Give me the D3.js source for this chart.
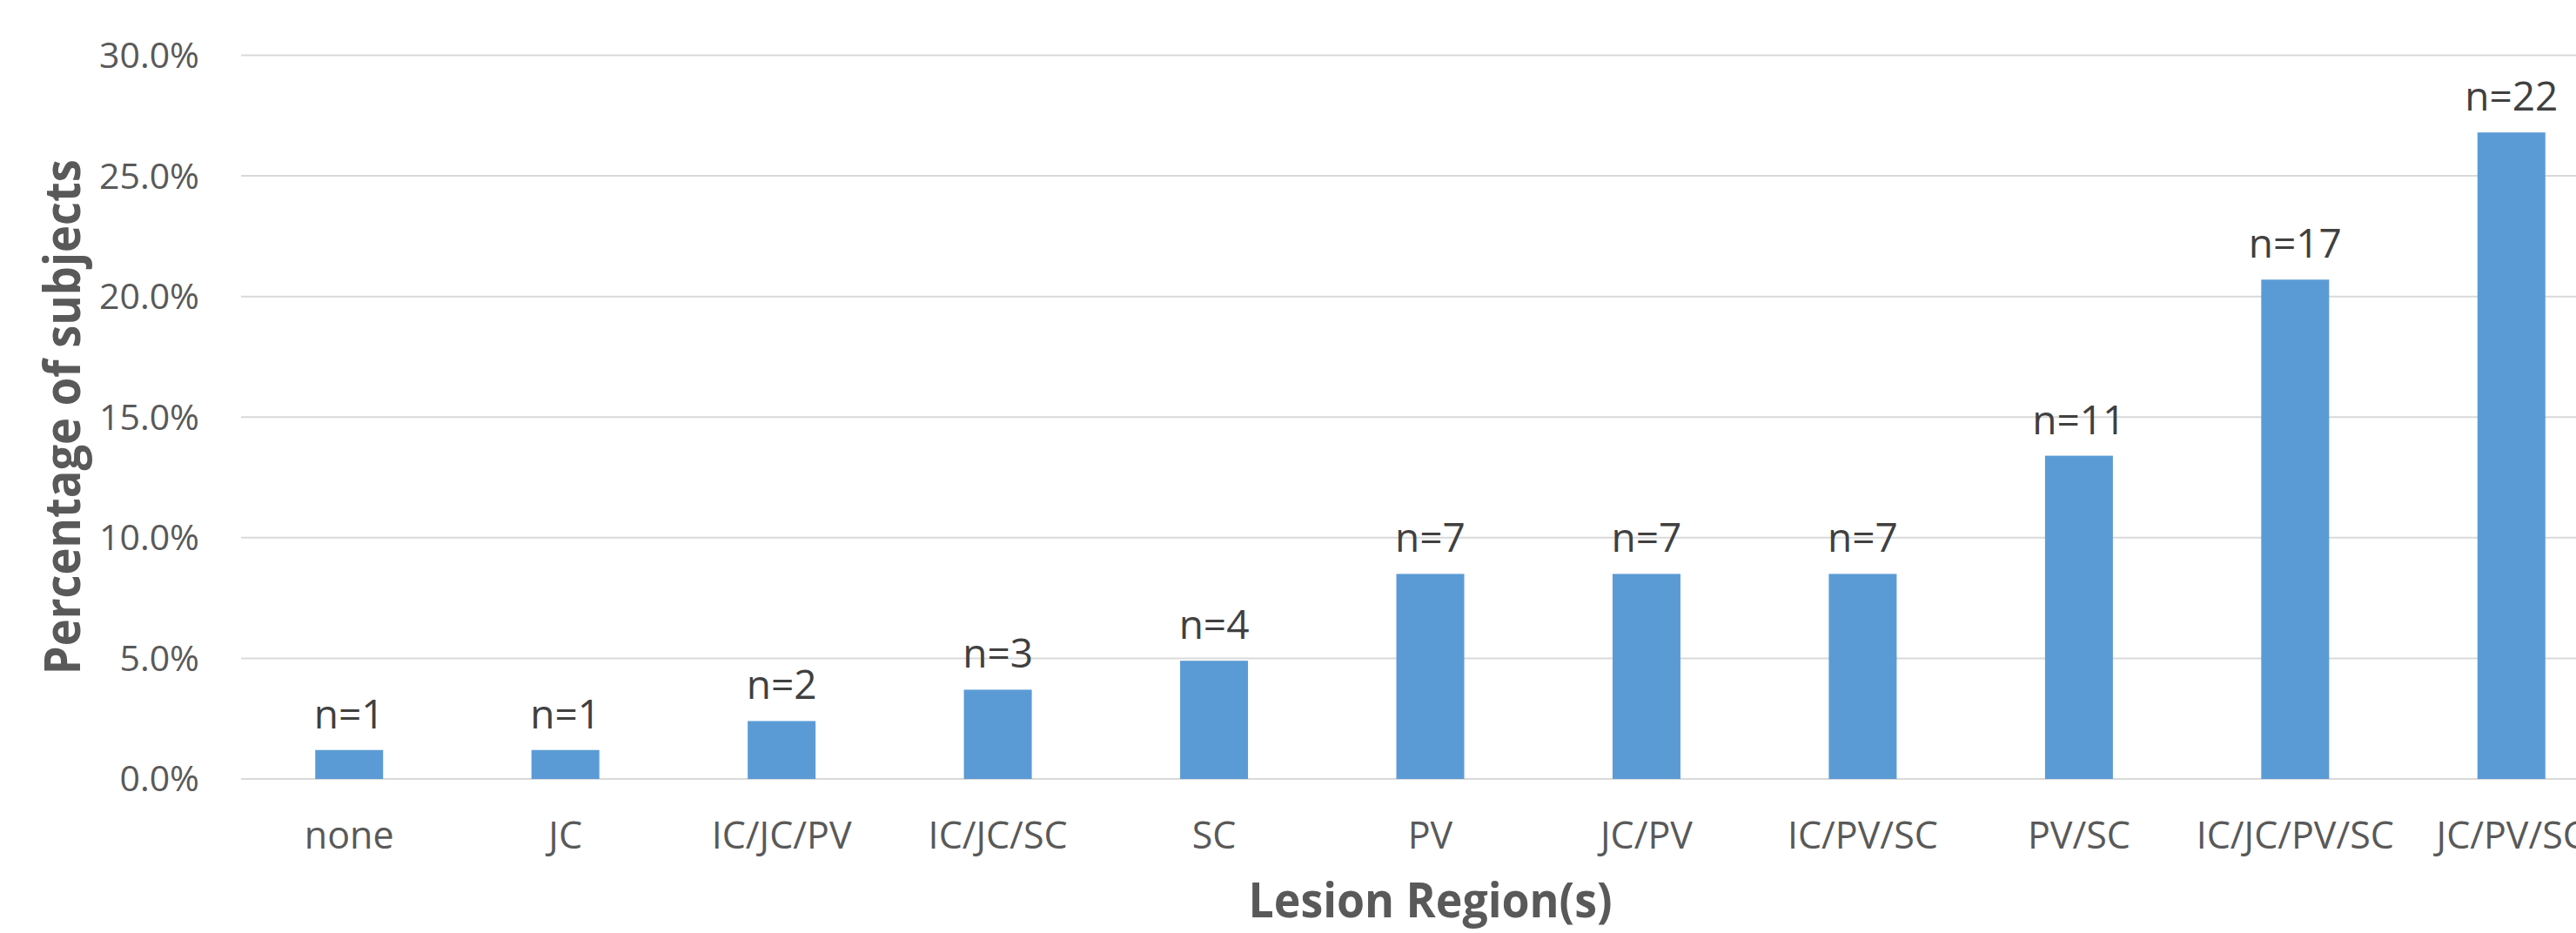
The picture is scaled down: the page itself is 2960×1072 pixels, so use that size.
<!DOCTYPE html>
<html>
<head>
<meta charset="utf-8">
<script src="https://cdn.jsdelivr.net/npm/d3@7"></script>
<style>
    body { margin: 0; background: #fff; }
    svg { display: block; }
</style>
</head>
<body>
<div id="chart"></div>
<script>
var regions = ["none", "JC", "IC/JC/PV", "IC/JC/SC", "SC", "PV", "JC/PV", "IC/PV/SC", "PV/SC", "IC/JC/PV/SC", "JC/PV/SC"];
var percents = [1.2, 1.2, 2.4, 3.7, 4.9, 8.5, 8.5, 8.5, 13.4, 20.7, 26.8];
var counts = [1, 1, 2, 3, 4, 7, 7, 7, 11, 17, 22];
var yTicks = [0, 5, 10, 15, 20, 25, 30];

var width = 2960,
    height = 1072;

// plot area runs past the right edge of the picture, as in the original
var plot = { left: 277, right: 3010, top: 63.5, bottom: 895 };

var svg = d3.select("#chart")
    .append("svg")
    .attr("width", width)
    .attr("height", height);

var x = d3.scaleBand()
    .domain(regions)
    .range([plot.left, plot.right])
    .paddingInner(0.686)
    .paddingOuter(0.343);

var y = d3.scaleLinear()
    .domain([0, 30])
    .range([plot.bottom, plot.top]);

// gridlines
svg.append("g")
    .selectAll("line")
    .data(yTicks)
    .join("line")
    .attr("x1", plot.left)
    .attr("x2", plot.right)
    .attr("y1", d => y(d))
    .attr("y2", d => y(d))
    .style("stroke", "#d9d9d9")
    .style("stroke-width", 2);

// y axis labels
var yAxis = svg.append("g")
    .attr("transform", "translate(" + plot.left + ",0)")
    .call(d3.axisLeft(y).tickValues(yTicks).tickSize(0).tickPadding(48).tickFormat(d => d.toFixed(1) + "%"));
yAxis.select(".domain").remove();
yAxis.selectAll("text")
    .attr("dy", "0.34em")
    .style("font-family", "'Open Sans', sans-serif")
    .style("font-size", "41px")
    .style("fill", "#595959");

// x axis labels (the last one is cut by the edge, like the original)
var xAxis = svg.append("g")
    .attr("transform", "translate(0," + plot.bottom + ")")
    .call(d3.axisBottom(x).tickSize(0).tickPadding(50));
xAxis.select(".domain").remove();
xAxis.selectAll("text")
    .attr("dy", "0.69em")
    .style("font-family", "'Open Sans', sans-serif")
    .style("font-size", "43px")
    .style("fill", "#595959");

// bars
svg.append("g")
    .selectAll("rect")
    .data(percents)
    .join("rect")
    .attr("x", (d, i) => x(regions[i]))
    .attr("y", d => y(d))
    .attr("width", x.bandwidth())
    .attr("height", d => y(0) - y(d))
    .style("fill", "#5b9bd5");

// n= labels above bars
svg.append("g")
    .selectAll("text")
    .data(percents)
    .join("text")
    .attr("x", (d, i) => x(regions[i]) + x.bandwidth() / 2)
    .attr("y", d => y(d) - 25)
    .attr("text-anchor", "middle")
    .style("font-family", "'Open Sans', sans-serif")
    .style("font-size", "46px")
    .style("fill", "#404040")
    .text((d, i) => "n=" + counts[i]);

// axis titles
svg.append("text")
    .attr("transform", "translate(92," + (plot.top + plot.bottom) / 2 + ") rotate(-90)")
    .attr("text-anchor", "middle")
    .attr("textLength", 592)
    .attr("lengthAdjust", "spacingAndGlyphs")
    .style("font-family", "'Open Sans', sans-serif")
    .style("font-weight", "bold")
    .style("font-size", "57px")
    .style("fill", "#595959")
    .text("Percentage of subjects");

svg.append("text")
    .attr("x", (plot.left + plot.right) / 2)
    .attr("y", 1054)
    .attr("text-anchor", "middle")
    .attr("textLength", 418)
    .attr("lengthAdjust", "spacingAndGlyphs")
    .style("font-family", "'Open Sans', sans-serif")
    .style("font-weight", "bold")
    .style("font-size", "55px")
    .style("fill", "#595959")
    .text("Lesion Region(s)");
</script>
</body>
</html>
